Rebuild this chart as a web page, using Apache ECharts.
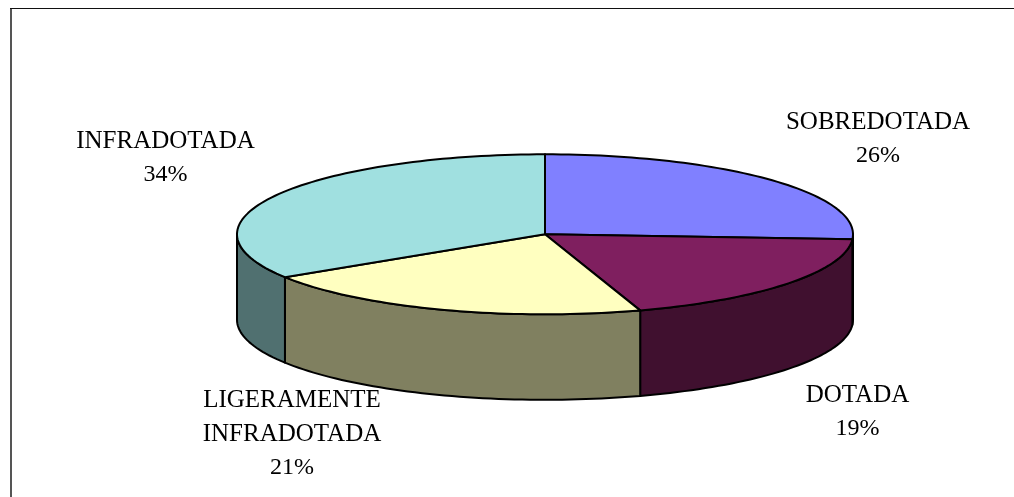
<!DOCTYPE html>
<html><head><meta charset="utf-8">
<style>html,body{margin:0;padding:0;background:#fff}#c{width:1014px;height:497px}</style>
<script src="https://cdn.jsdelivr.net/npm/echarts@6/dist/echarts.min.js"></script>
</head><body><div id="c"></div>
<script>
const categories = ['SOBREDOTADA', 'DOTADA', 'LIGERAMENTE\nINFRADOTADA', 'INFRADOTADA'];
const values = [26, 19, 21, 34];
const topColors = ['#8080FF', '#7F1F5F', '#FFFFC0', '#A0E0E0'];
const sideColors = ['#404080', '#40102F', '#808060', '#507070'];
const labelCentres = [[878, 139], [857.5, 412], [292, 434], [165.5, 158]];

const CX = 545, CY = 234.3, RX = 308, RY = 80, DEPTH = 85.5;
const total = values.reduce((a, b) => a + b, 0);
const pt = (deg, dy) => {
  const t = deg * Math.PI / 180;
  return [CX + RX * Math.sin(t), CY - RY * Math.cos(t) + (dy || 0)];
};
const arc = (a, b, dy) => {
  const n = Math.max(2, Math.ceil(Math.abs(b - a) / 1.5));
  const out = [];
  for (let i = 0; i <= n; i++) out.push(pt(a + (b - a) * i / n, dy));
  return out;
};
const stroke = { stroke: '#000', lineWidth: 2, lineJoin: 'round' };

function renderItem(params, api) {
  const i = params.dataIndex;
  let start = 0;
  for (let k = 0; k < i; k++) start += values[k];
  const a0 = start / total * 360;
  const a1 = a0 + api.value(0) / total * 360;
  const children = [];
  // side wall: only the front half of the rim is visible
  const s0 = Math.max(a0, 90), s1 = Math.min(a1, 270);
  if (s1 > s0) {
    children.push({
      type: 'polygon',
      shape: { points: arc(s0, s1, 0).concat(arc(s1, s0, DEPTH)) },
      style: Object.assign({ fill: sideColors[i] }, stroke)
    });
  }
  children.push({
    type: 'polygon',
    shape: { points: [[CX, CY]].concat(arc(a0, a1, 0)) },
    style: Object.assign({ fill: topColors[i] }, stroke)
  });
  const nameLines = categories[i].split('\n').map(s => '{n|' + s + '}');
  children.push({
    type: 'text',
    style: {
      x: labelCentres[i][0], y: labelCentres[i][1],
      text: nameLines.concat('{p|' + api.value(0) + '%}').join('\n'),
      align: 'center', verticalAlign: 'middle',
      rich: {
        n: { fontFamily: 'Liberation Serif', fontSize: 25, lineHeight: 33.5, fill: '#000', align: 'center' },
        p: { fontFamily: 'Liberation Serif', fontSize: 24, lineHeight: 33.5, fill: '#000', align: 'center' }
      }
    }
  });
  return { type: 'group', children };
}

const chart = echarts.init(document.getElementById('c'), null, { renderer: 'canvas' });
chart.setOption({
  animation: false,
  backgroundColor: '#fff',
  graphic: [{
    type: 'line', z: 10, silent: true,
    shape: { x1: 11, y1: 8, x2: 11, y2: 497 },
    style: { stroke: '#555', lineWidth: 2 }
  }, {
    type: 'line', z: 10, silent: true,
    shape: { x1: 10, y1: 8.5, x2: 1014, y2: 8.5 },
    style: { stroke: '#111', lineWidth: 1 }
  }],
  series: [{
    type: 'custom',
    coordinateSystem: 'none',
    renderItem,
    data: values.map(v => [v]),
    silent: true
  }]
});
</script></body></html>
